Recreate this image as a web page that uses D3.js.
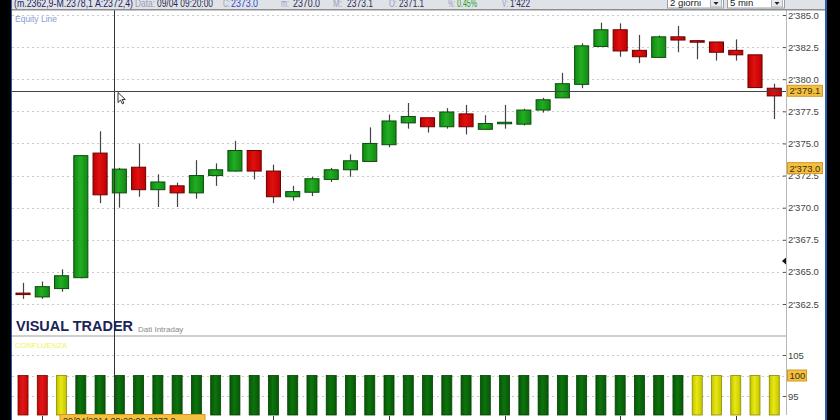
<!DOCTYPE html>
<html>
<head>
<meta charset="utf-8">
<script src="https://cdn.jsdelivr.net/npm/d3@7"></script>
<style>
  body { margin: 0; background: #000; }
  svg { display: block; }
  text { font-family: "Liberation Sans", Arial, sans-serif; }
</style>
</head>
<body>
<div id="chartArea"></div>
<script>
// 5 min bars, 2 days (09:20 bar is the one under the cursor)
var opens  = [2363.35, 2363.05, 2363.7, 2364.55, 2374.25, 2371.15, 2373.15, 2371.4, 2371.7, 2371.15,
              2372.5, 2372.85, 2374.45, 2372.85, 2370.85, 2371.2, 2372.2, 2372.95, 2373.6, 2374.9,
              2376.6, 2377.0, 2376.3, 2377.3, 2376.1, 2376.6, 2376.5, 2377.6, 2378.55, 2379.6,
              2382.55, 2383.85, 2382.25, 2381.7, 2383.3, 2383.0, 2382.9, 2382.25, 2381.9, 2379.3];
var highs  = [2364.15, 2364.25, 2365.2, 2374.1, 2375.95, 2373.1, 2375.0, 2372.6, 2371.95, 2373.7,
              2373.45, 2375.2, 2374.45, 2373.35, 2371.7, 2372.4, 2373.1, 2374.15, 2376.25, 2377.25,
              2378.15, 2377.0, 2377.75, 2378.0, 2377.2, 2378.0, 2377.7, 2378.55, 2380.5, 2382.8,
              2384.4, 2384.35, 2383.45, 2383.4, 2384.15, 2383.05, 2382.9, 2383.1, 2381.9, 2379.65];
var lows   = [2362.9, 2362.9, 2363.45, 2364.5, 2370.35, 2370.0, 2370.85, 2370.05, 2370.05, 2370.7,
              2371.7, 2372.8, 2372.2, 2370.35, 2370.55, 2370.9, 2372.0, 2372.4, 2373.6, 2374.7,
              2376.15, 2375.85, 2376.15, 2375.7, 2376.1, 2376.15, 2376.4, 2377.4, 2378.55, 2379.3,
              2382.55, 2381.75, 2381.25, 2381.7, 2382.1, 2381.55, 2381.45, 2381.45, 2379.35, 2376.9];
var closes = [2363.25, 2363.85, 2364.7, 2374.05, 2371.0, 2373.0, 2371.4, 2372.0, 2371.15, 2372.5,
              2372.95, 2374.45, 2372.85, 2370.85, 2371.25, 2372.25, 2372.95, 2373.65, 2375.0, 2376.75,
              2377.1, 2376.3, 2377.45, 2376.3, 2376.55, 2376.65, 2377.6, 2378.4, 2379.65, 2382.6,
              2383.85, 2382.2, 2381.75, 2383.3, 2383.05, 2382.9, 2382.1, 2381.9, 2379.35, 2378.7];

// CONFLUENZA indicator
var confValues = [100, 100, 100, 100, 100, 100, 100, 100, 100, 100,
                  100, 100, 100, 100, 100, 100, 100, 100, 100, 100,
                  100, 100, 100, 100, 100, 100, 100, 100, 100, 100,
                  100, 100, 100, 100, 100, 100, 100, 100, 100, 100];
var confState  = ['r','r','y','g','g','g','g','g','g','g',
                  'g','g','g','g','g','g','g','g','g','g',
                  'g','g','g','g','g','g','g','g','g','g',
                  'g','g','g','g','g','y','y','y','y','y'];

var priceTicks = [2362.5, 2365, 2367.5, 2370, 2372.5, 2375, 2377.5, 2380, 2382.5, 2385];
var confTicks = [95, 105];
var cursorPrice = 2379.1;
var lastPrice = 2373.0;
var markerPrice = 2365.85;

var W = 840, H = 420;
var plot = {left: 12, right: 786, top: 10, mainBottom: 335, subTop: 337, subBottom: 415};

var svg = d3.select('#chartArea').append('svg')
    .attr('width', W)
    .attr('height', H);

var defs = svg.append('defs');
function gradient(id, c1, c2) {
    var g = defs.append('linearGradient').attr('id', id)
        .attr('x1', '0%').attr('x2', '100%').attr('y1', '0%').attr('y2', '0%');
    g.append('stop').attr('offset', '0%').attr('stop-color', c1);
    g.append('stop').attr('offset', '45%').attr('stop-color', c2);
    g.append('stop').attr('offset', '100%').attr('stop-color', c1);
}
gradient('gUp', '#0f8a12', '#24ac24');
gradient('gDn', '#c00000', '#e01010');
gradient('gConfG', '#065806', '#0d730d');
gradient('gConfR', '#c00808', '#e21616');
gradient('gConfY', '#c4c400', '#e8e814');

// frame: black sides, white canvas
svg.append('rect').attr('x', 0).attr('y', 0).attr('width', W).attr('height', H).attr('fill', '#000');
svg.append('rect').attr('x', 11).attr('y', 0).attr('width', 816).attr('height', H).attr('fill', '#2a5fb0');
svg.append('rect').attr('x', 12).attr('y', 0).attr('width', 813).attr('height', H).attr('fill', '#fff');

var x = d3.scaleBand()
    .domain(d3.range(opens.length))
    .range([13.4, 783.9])
    .paddingInner(0.27)
    .paddingOuter(0.135);

var y = d3.scaleLinear()
    .domain([2362.5, 2385])
    .range([304, 15]);

var ySub = d3.scaleLinear()
    .domain([95, 105])
    .range([396, 355]);

var fmt = d3.formatLocale({decimal: '.', thousands: "'", grouping: [3], currency: ['', '']}).format(',.1f');

// grid
svg.append('g').selectAll('line')
    .data(priceTicks)
    .enter()
    .append('line')
    .attr('x1', plot.left).attr('x2', plot.right)
    .attr('y1', function (d) { return Math.round(y(d)) + 0.5; })
    .attr('y2', function (d) { return Math.round(y(d)) + 0.5; })
    .attr('stroke', '#c9c9c9')
    .attr('stroke-dasharray', '2,3');

svg.append('g').selectAll('line')
    .data([95, 100, 105])
    .enter()
    .append('line')
    .attr('x1', plot.left).attr('x2', plot.right)
    .attr('y1', function (d) { return Math.round(ySub(d)) + 0.5; })
    .attr('y2', function (d) { return Math.round(ySub(d)) + 0.5; })
    .attr('stroke', '#c9c9c9')
    .attr('stroke-dasharray', '2,3');

// right axes
var yAxis = d3.axisRight(y).tickValues(priceTicks).tickSize(3).tickPadding(2).tickFormat(fmt);
var gy = svg.append('g').attr('transform', 'translate(' + (plot.right - 3) + ',0)').call(yAxis);
gy.select('.domain').remove();
gy.selectAll('line').attr('stroke', '#555');
gy.selectAll('text').attr('fill', '#444').style('font-size', '9.5px');

var subAxis = d3.axisRight(ySub).tickValues(confTicks).tickSize(3).tickPadding(2);
var gs = svg.append('g').attr('transform', 'translate(' + (plot.right - 3) + ',0)').call(subAxis);
gs.select('.domain').remove();
gs.selectAll('line').attr('stroke', '#555');
gs.selectAll('text').attr('fill', '#444').style('font-size', '9.5px');

svg.append('line')
    .attr('x1', plot.right + 0.5).attr('x2', plot.right + 0.5)
    .attr('y1', plot.top).attr('y2', plot.subBottom)
    .attr('stroke', '#b8b8b8');

// panel separator
svg.append('rect')
    .attr('x', plot.left).attr('y', plot.mainBottom)
    .attr('width', plot.right - plot.left).attr('height', 2)
    .attr('fill', '#cfcfcf');

// candles
var candles = svg.append('g').selectAll('g')
    .data(d3.range(opens.length))
    .enter()
    .append('g');

candles.append('line')
    .attr('x1', function (i) { return Math.round(x(i) + x.bandwidth() / 2) + 0.5; })
    .attr('x2', function (i) { return Math.round(x(i) + x.bandwidth() / 2) + 0.5; })
    .attr('y1', function (i) { return y(highs[i]); })
    .attr('y2', function (i) { return y(lows[i]); })
    .attr('stroke', '#444')
    .attr('stroke-width', 1.2);

candles.append('rect')
    .attr('x', function (i) { return x(i); })
    .attr('y', function (i) { return y(Math.max(opens[i], closes[i])); })
    .attr('width', x.bandwidth())
    .attr('height', function (i) { return Math.max(1.5, Math.abs(y(opens[i]) - y(closes[i]))); })
    .attr('fill', function (i) { return closes[i] >= opens[i] ? 'url(#gUp)' : 'url(#gDn)'; })
    .attr('stroke', function (i) { return closes[i] >= opens[i] ? '#0b4d0b' : '#6a0000'; })
    .attr('stroke-width', 1);

// confluence bars
var confFill = {g: 'url(#gConfG)', r: 'url(#gConfR)', y: 'url(#gConfY)'};
var confStroke = {g: '#044004', r: '#7a0000', y: '#8a8a00'};
svg.append('g').selectAll('rect')
    .data(d3.range(confValues.length))
    .enter()
    .append('rect')
    .attr('x', function (i) { return x(i) + x.bandwidth() / 2 - 5; })
    .attr('y', function (i) { return ySub(confValues[i]); })
    .attr('width', 10)
    .attr('height', function (i) { return plot.subBottom - ySub(confValues[i]); })
    .attr('fill', function (i) { return confFill[confState[i]]; })
    .attr('stroke', function (i) { return confStroke[confState[i]]; })
    .attr('stroke-width', 0.8);

// time ticks every 6 bars
svg.append('g').selectAll('line')
    .data(d3.range(1, opens.length, 6))
    .enter()
    .append('line')
    .attr('x1', function (i) { return Math.round(x(i) + x.bandwidth() / 2) + 0.5; })
    .attr('x2', function (i) { return Math.round(x(i) + x.bandwidth() / 2) + 0.5; })
    .attr('y1', plot.subBottom + 1).attr('y2', plot.subBottom + 5)
    .attr('stroke', '#333');

// crosshair
var crossX = Math.round(x(5) + 2) + 0.5;
var crossY = Math.round(y(cursorPrice)) + 0.5;
svg.append('line')
    .attr('x1', crossX).attr('x2', crossX)
    .attr('y1', plot.top).attr('y2', H)
    .attr('stroke', '#333');
svg.append('line')
    .attr('x1', plot.left).attr('x2', plot.right)
    .attr('y1', crossY).attr('y2', crossY)
    .attr('stroke', '#444');

// mouse pointer
svg.append('path')
    .attr('d', 'M0,0 L0,10 L2.5,7.6 L4.3,11.3 L5.9,10.6 L4.2,7 L7.3,7 Z')
    .attr('transform', 'translate(118,' + (crossY + 1) + ')')
    .attr('fill', '#fff')
    .attr('stroke', '#000')
    .attr('stroke-width', 0.8);

// value boxes on the axis
function valueBox(yc, w, label) {
    svg.append('rect')
        .attr('x', plot.right + 1.5).attr('y', yc - 5.5)
        .attr('width', w).attr('height', 11)
        .attr('fill', '#f4c043').attr('stroke', '#d49a20');
    svg.append('text')
        .attr('x', plot.right + 3.5).attr('y', yc + 3.5)
        .attr('fill', '#3a3000')
        .style('font-size', '9.5px')
        .text(label);
}
valueBox(y(cursorPrice), 35, fmt(cursorPrice));
valueBox(y(lastPrice) - 1, 35, fmt(lastPrice));
valueBox(ySub(100), 19, '100');

// small marker on the axis
var my = y(markerPrice);
svg.append('path')
    .attr('d', 'M' + (plot.right - 4) + ',' + my + ' L' + (plot.right) + ',' + (my - 3.5) + ' L' + (plot.right) + ',' + (my + 3.5) + ' Z')
    .attr('fill', '#111');

// labels inside panels
svg.append('text').attr('x', 15).attr('y', 22)
    .attr('fill', '#8a9bd0').style('font-size', '8.5px').text('Equity Line');
svg.append('text').attr('x', 16).attr('y', 331)
    .attr('fill', '#1b2358').style('font-size', '14.5px').style('font-weight', 'bold')
    .attr('textLength', 117).attr('lengthAdjust', 'spacingAndGlyphs')
    .text('VISUAL TRADER');
svg.append('text').attr('x', 138).attr('y', 332)
    .attr('fill', '#8a8a8a').style('font-size', '8px').text('Dati Intraday');
svg.append('text').attr('x', 15).attr('y', 348)
    .attr('fill', '#f2f25a').style('font-size', '8px')
    .attr('textLength', 52).attr('lengthAdjust', 'spacingAndGlyphs')
    .text('CONFLUENZA');

// date label at the bottom of the cursor line
svg.append('rect').attr('x', 60).attr('y', 414.5).attr('width', 145).attr('height', 8)
    .attr('fill', '#f4c043').attr('stroke', '#d49a20');
svg.append('text').attr('x', 63).attr('y', 424).attr('fill', '#3a3000').style('font-size', '9px')
    .text('09/04/2014 09:20:00  2373.0');

// header strip (clipped at the top)
svg.append('rect').attr('x', 12).attr('y', 0).attr('width', 813).attr('height', 9)
    .attr('fill', '#dfe3e8');
svg.append('rect').attr('x', 12).attr('y', 9).attr('width', 813).attr('height', 1.5)
    .attr('fill', '#8e8e8e');

var header = [
    {x: 14, t: '(m.2362,9-M.2378,1 A:2372,4)', c: '#1e2260', w: 119},
    {x: 135, t: 'Data:', c: '#9a9ab8', w: 20},
    {x: 157, t: '09/04 09:20:00', c: '#2a2a50', w: 56},
    {x: 223, t: 'C:', c: '#9a9ab8', w: 7},
    {x: 231, t: '2373.0', c: '#2f48c8', w: 27},
    {x: 281, t: 'm:', c: '#9a9ab8', w: 8},
    {x: 293, t: '2370.0', c: '#2a2a50', w: 27},
    {x: 333, t: 'M:', c: '#9a9ab8', w: 9},
    {x: 347, t: '2373.1', c: '#2a2a50', w: 26},
    {x: 389, t: 'O:', c: '#9a9ab8', w: 8},
    {x: 399, t: '2371.1', c: '#2a2a50', w: 25},
    {x: 448, t: '%:', c: '#9a9ab8', w: 7},
    {x: 457, t: '0.45%', c: '#22a022', w: 20},
    {x: 502, t: 'V:', c: '#9a9ab8', w: 6},
    {x: 510, t: "1'422", c: '#2a2a50', w: 20}
];
svg.append('g').selectAll('text')
    .data(header)
    .enter()
    .append('text')
    .attr('x', function (d) { return d.x; })
    .attr('y', 6.5)
    .attr('fill', function (d) { return d.c; })
    .attr('textLength', function (d) { return d.w; })
    .attr('lengthAdjust', 'spacingAndGlyphs')
    .style('font-size', '10px')
    .text(function (d) { return d.t; });

// period / timeframe selectors
var combos = [{x: 667, w: 56, t: '2 giorni'}, {x: 727, w: 57, t: '5 min'}];
combos.forEach(function (c) {
    svg.append('rect').attr('x', c.x + 0.5).attr('y', -2).attr('width', c.w).attr('height', 10)
        .attr('fill', '#fff').attr('stroke', '#9aa0aa');
    svg.append('text').attr('x', c.x + 3).attr('y', 5.5).attr('fill', '#222')
        .style('font-size', '9.5px').text(c.t);
    svg.append('rect').attr('x', c.x + c.w - 12.5).attr('y', -1).attr('width', 11).attr('height', 8)
        .attr('fill', '#e6e8ec').attr('stroke', '#b0b4bc');
    svg.append('path')
        .attr('d', 'M' + (c.x + c.w - 9.5) + ',2 L' + (c.x + c.w - 4.5) + ',2 L' + (c.x + c.w - 7) + ',5 Z')
        .attr('fill', '#222');
});
</script>
</body>
</html>
